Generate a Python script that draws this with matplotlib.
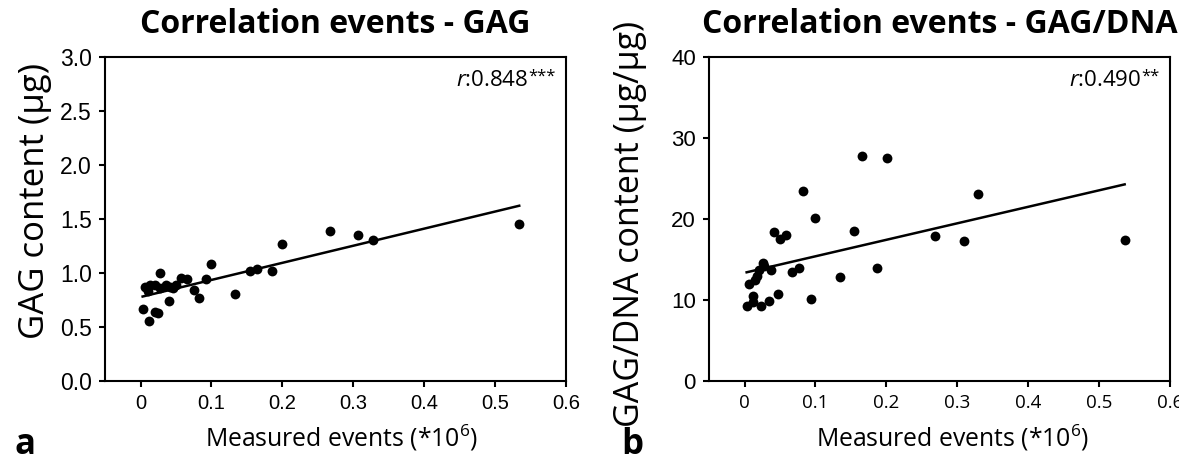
import numpy as np
import matplotlib
matplotlib.use("Agg")
import matplotlib.pyplot as plt

plt.rcParams['font.family'] = ['Open Sans', 'DejaVu Sans']
plt.rcParams['mathtext.fontset'] = 'custom'
plt.rcParams['mathtext.rm'] = 'Open Sans'
plt.rcParams['mathtext.it'] = 'Open Sans:italic'
plt.rcParams['mathtext.bf'] = 'Open Sans:bold'

# panel a: GAG content vs measured events
gag_x = [0.003, 0.006, 0.010, 0.012, 0.013, 0.020, 0.020, 0.025, 0.027, 0.028,
         0.036, 0.040, 0.042, 0.046, 0.050, 0.057, 0.066, 0.076, 0.082, 0.093,
         0.100, 0.133, 0.154, 0.164, 0.186, 0.200, 0.267, 0.307, 0.328, 0.534]
gag_y = [0.67, 0.87, 0.83, 0.56, 0.89, 0.89, 0.64, 0.63, 0.86, 1.00,
         0.89, 0.74, 0.87, 0.86, 0.89, 0.95, 0.94, 0.84, 0.77, 0.94,
         1.08, 0.81, 1.02, 1.04, 1.02, 1.27, 1.39, 1.35, 1.31, 1.45]

# panel b: GAG/DNA vs measured events
dna_x = [0.003, 0.007, 0.012, 0.012, 0.015, 0.018, 0.021, 0.023, 0.026, 0.027,
         0.034, 0.038, 0.041, 0.047, 0.050, 0.058, 0.067, 0.077, 0.083, 0.094,
         0.100, 0.134, 0.154, 0.165, 0.187, 0.201, 0.268, 0.309, 0.329, 0.536]
dna_y = [9.3, 12.0, 10.5, 9.8, 12.5, 13.0, 13.7, 9.2, 14.6, 14.2,
         9.9, 13.7, 18.4, 10.7, 17.5, 18.0, 13.5, 14.0, 23.5, 10.1,
         20.1, 12.9, 18.5, 27.8, 14.0, 27.5, 17.9, 17.3, 23.1, 17.4]

x_ticks = [0, 0.1, 0.2, 0.3, 0.4, 0.5, 0.6]
x_ticklabels = ['0', '0.1', '0.2', '0.3', '0.4', '0.5', '0.6']
gag_ticks = [0.0, 0.5, 1.0, 1.5, 2.0, 2.5, 3.0]
gag_ticklabels = ['0.0', '0.5', '1.0', '1.5', '2.0', '2.5', '3.0']
dna_ticks = [0, 10, 20, 30, 40]
dna_ticklabels = ['0', '10', '20', '30', '40']

fig = plt.figure(figsize=(11.79, 4.57), dpi=100)
ax1 = fig.add_axes([0.0891, 0.1663, 0.391, 0.709])
ax2 = fig.add_axes([0.6014, 0.1663, 0.391, 0.709])


def draw_panel(ax, xs, ys, yticks, yticklabels, ylim, ylabel, ylsize, title, rtext, stars,
               xfont, xsize, ysize, ylab_xy, xlab_x):
    xs = np.array(xs)
    ys = np.array(ys)
    ax.scatter(xs, ys, s=50, color='black', zorder=3, linewidths=0)
    k, b = np.polyfit(xs, ys, 1)
    xx = np.array([xs.min(), xs.max()])
    ax.plot(xx, k * xx + b, color='black', lw=1.8)
    ax.set_xlim(-0.05, 0.6)
    ax.set_ylim(*ylim)
    ax.set_xticks(x_ticks)
    ax.set_xticklabels(x_ticklabels, family=xfont, fontsize=xsize)
    ax.set_yticks(yticks)
    ax.set_yticklabels(yticklabels, family='Liberation Sans', fontsize=ysize)
    for s in ax.spines.values():
        s.set_linewidth(1.5)
    ax.tick_params(direction='out', length=4.5, width=1.5, pad=5)
    ax.set_title(title, fontsize=23, fontweight='bold', pad=17)
    ax.set_ylabel(ylabel, fontsize=ylsize, va='center')
    ax.yaxis.set_label_coords(*ylab_xy)
    ax.set_xlabel('Measured events (*10$^{6}$)', fontsize=17.8, va='center')
    ax.xaxis.set_label_coords(xlab_x, -0.176)
    st = ax.text(0.978, 0.94, stars, transform=ax.transAxes, ha='right', va='center',
                 fontsize=12)
    ax.annotate(rtext, xy=(0, 0.5), xycoords=st, xytext=(0, -3),
                textcoords='offset points', ha='right', va='center', fontsize=16)


draw_panel(ax1, gag_x, gag_y, gag_ticks, gag_ticklabels, (0, 3.0), 'GAG content (µg)', 25,
           'Correlation events - GAG', '$\\mathit{r}$:0.848', '***',
           'Liberation Sans', 14.5, 16.5, (-0.152, 0.556), 0.514)
draw_panel(ax2, dna_x, dna_y, dna_ticks, dna_ticklabels, (0, 40), 'GAG/DNA content (µg/µg)', 24.5,
           'Correlation events - GAG/DNA', '$\\mathit{r}$:0.490', '**',
           'Open Sans', 13.5, 16, (-0.171, 0.485), 0.529)

fig.text(25 / 1179, 3 / 457, 'a', fontsize=25, fontweight='bold', ha='center', va='baseline')
fig.text(632 / 1179, 3 / 457, 'b', fontsize=25, fontweight='bold', ha='center', va='baseline')

fig.savefig('out.png', dpi=100)
